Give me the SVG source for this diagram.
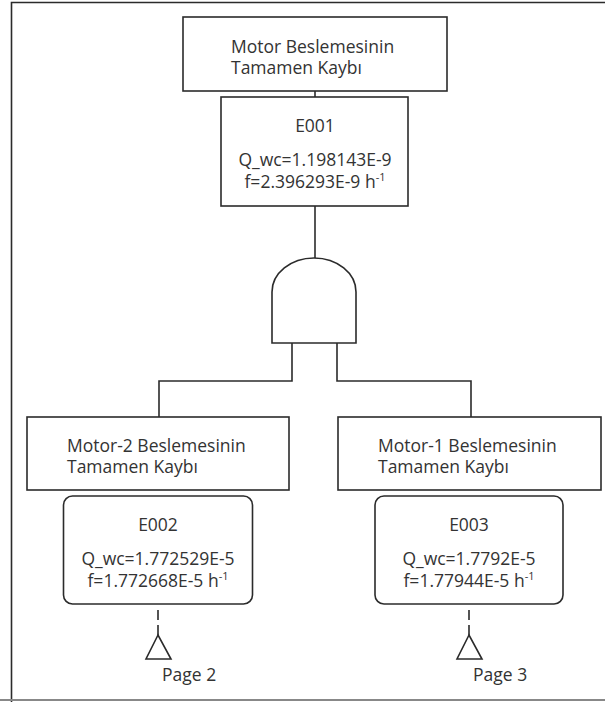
<svg xmlns="http://www.w3.org/2000/svg" width="605" height="702" viewBox="0 0 605 702">
<style>
.box{fill:#fff;stroke:#2b2b2b;stroke-width:1.6}
.ln{fill:none;stroke:#2b2b2b;stroke-width:1.6}
.t{font-family:"Open Sans","Noto Sans",sans-serif;font-size:17.5px;fill:#333}
.c{text-anchor:middle}
.sup{font-size:11px}
</style>
<rect x="0" y="0" width="605" height="702" fill="#fff"/>
<g id="frame">
<polyline class="ln" points="11.5,702 11.5,2.5 605,2.5" stroke="#111"/>
<line x1="0" y1="700" x2="605" y2="700" stroke="#888" stroke-width="2"/>
</g>
<g id="connectors">
<line class="ln" x1="315" y1="91" x2="315" y2="97"/>
<line class="ln" x1="315" y1="206" x2="315" y2="258"/>
<polyline class="ln" points="292,343 292,381 159,381 159,417"/>
<polyline class="ln" points="337,343 337,381 471,381 471,417"/>
<line class="ln" x1="158" y1="604" x2="158" y2="635" stroke-dasharray="0,6 10,5 10,5"/>
<line class="ln" x1="469" y1="604" x2="469" y2="635" stroke-dasharray="0,6 10,5 10,5"/>
</g>
<g id="top">
<rect class="box" x="183" y="17" width="264" height="74"/>
<text class="t" x="231" y="53">Motor Beslemesinin</text>
<text class="t" x="231" y="74">Tamamen Kaybı</text>
</g>
<g id="E001">
<rect class="box" x="221" y="97" width="187" height="109"/>
<text class="t c" x="315" y="132">E001</text>
<text class="t c" x="315" y="166">Q_wc=1.198143E-9</text>
<text class="t c" x="315" y="188">f=2.396293E-9 h<tspan class="sup" dy="-7">-1</tspan></text>
</g>
<g id="gate">
<path class="box" d="M272,343 L272,292 A42,34 0 0 1 356,292 L356,343 Z"/>
</g>
<g id="left">
<rect class="box" x="27" y="417" width="262" height="73"/>
<text class="t" x="67" y="452">Motor-2 Beslemesinin</text>
<text class="t" x="67" y="473">Tamamen Kaybı</text>
</g>
<g id="E002">
<rect class="box" x="63.5" y="496" width="189" height="108" rx="9"/>
<text class="t c" x="158" y="531">E002</text>
<text class="t c" x="158" y="565">Q_wc=1.772529E-5</text>
<text class="t c" x="158" y="587">f=1.772668E-5 h<tspan class="sup" dy="-7">-1</tspan></text>
</g>
<g id="right">
<rect class="box" x="338" y="417" width="263" height="73"/>
<text class="t" x="378" y="452">Motor-1 Beslemesinin</text>
<text class="t" x="378" y="473">Tamamen Kaybı</text>
</g>
<g id="E003">
<rect class="box" x="375" y="496" width="188" height="108" rx="9"/>
<text class="t c" x="469" y="531">E003</text>
<text class="t c" x="469" y="565">Q_wc=1.7792E-5</text>
<text class="t c" x="469" y="587">f=1.77944E-5 h<tspan class="sup" dy="-7">-1</tspan></text>
</g>
<g id="page2">
<polygon class="box" points="158,635 146,659 171,659"/>
<text class="t" x="162" y="681">Page 2</text>
</g>
<g id="page3">
<polygon class="box" points="469,635 457,659 482,659"/>
<text class="t" x="473" y="681">Page 3</text>
</g>
</svg>
